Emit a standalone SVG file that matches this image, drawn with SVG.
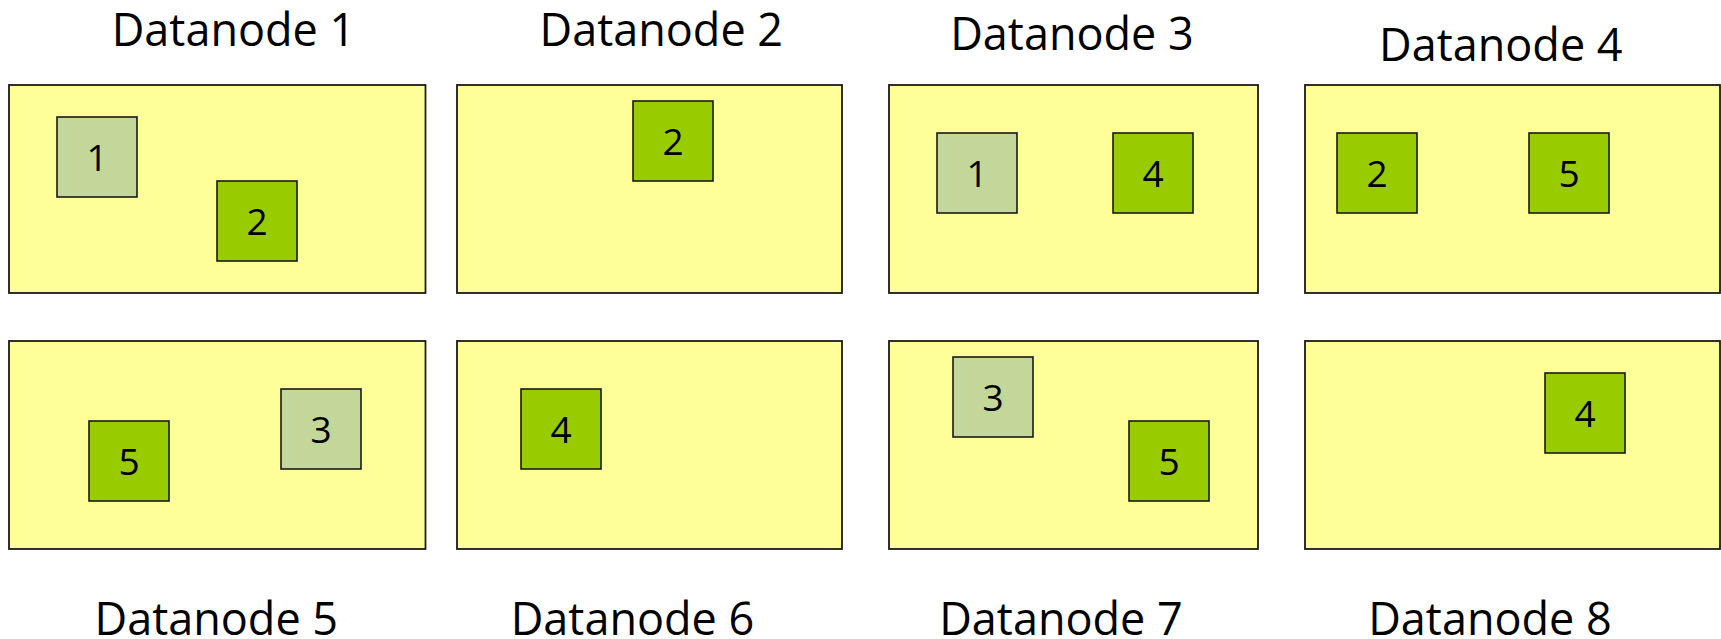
<svg xmlns="http://www.w3.org/2000/svg" width="1721" height="639" viewBox="0 0 1721 639">
  <style>
    .node { fill: #FFFF99; stroke: #1a1a1a; stroke-width: 1.8; }
    .blk { stroke: #1a1a1a; stroke-width: 1.6; }
    .replica { fill: #C4D79B; }
    .primary { fill: #99CC00; }
    .title { font-family: "Open Sans", "Liberation Sans", sans-serif; font-size: 45px; fill: #000; text-anchor: middle; }
    .num { font-family: "Open Sans", "Liberation Sans", sans-serif; font-size: 37px; fill: #000; text-anchor: middle; }
  </style>
  <rect width="1721" height="639" fill="#ffffff"/>

  <g id="datanode-1">
    <text class="title" x="233.5" y="45.7">Datanode 1</text>
    <rect class="node" x="9" y="85" width="416.5" height="208"/>
    <rect class="blk replica" x="57" y="117" width="80" height="80"/>
    <text class="num" x="97" y="170.5">1</text>
    <rect class="blk primary" x="217" y="181" width="80" height="80"/>
    <text class="num" x="257" y="234.5">2</text>
  </g>

  <g id="datanode-2">
    <text class="title" x="661.3" y="45.7">Datanode 2</text>
    <rect class="node" x="457" y="85" width="385" height="208"/>
    <rect class="blk primary" x="633" y="101" width="80" height="80"/>
    <text class="num" x="673" y="154.5">2</text>
  </g>

  <g id="datanode-3">
    <text class="title" x="1072" y="50">Datanode 3</text>
    <rect class="node" x="889" y="85" width="369" height="208"/>
    <rect class="blk replica" x="937" y="133" width="80" height="80"/>
    <text class="num" x="977" y="186.5">1</text>
    <rect class="blk primary" x="1113" y="133" width="80" height="80"/>
    <text class="num" x="1153" y="186.5">4</text>
  </g>

  <g id="datanode-4">
    <text class="title" x="1500.8" y="61">Datanode 4</text>
    <rect class="node" x="1305" y="85" width="415" height="208"/>
    <rect class="blk primary" x="1337" y="133" width="80" height="80"/>
    <text class="num" x="1377" y="186.5">2</text>
    <rect class="blk primary" x="1529" y="133" width="80" height="80"/>
    <text class="num" x="1569" y="186.5">5</text>
  </g>

  <g id="datanode-5">
    <rect class="node" x="9" y="341" width="416.5" height="208"/>
    <rect class="blk primary" x="89" y="421" width="80" height="80"/>
    <text class="num" x="129" y="474.5">5</text>
    <rect class="blk replica" x="281" y="389" width="80" height="80"/>
    <text class="num" x="321" y="442.5">3</text>
    <text class="title" x="216.3" y="635">Datanode 5</text>
  </g>

  <g id="datanode-6">
    <rect class="node" x="457" y="341" width="385" height="208"/>
    <rect class="blk primary" x="521" y="389" width="80" height="80"/>
    <text class="num" x="561" y="442.5">4</text>
    <text class="title" x="632.5" y="635">Datanode 6</text>
  </g>

  <g id="datanode-7">
    <rect class="node" x="889" y="341" width="369" height="208"/>
    <rect class="blk replica" x="953" y="357" width="80" height="80"/>
    <text class="num" x="993" y="410.5">3</text>
    <rect class="blk primary" x="1129" y="421" width="80" height="80"/>
    <text class="num" x="1169" y="474.5">5</text>
    <text class="title" x="1061" y="635">Datanode 7</text>
  </g>

  <g id="datanode-8">
    <rect class="node" x="1305" y="341" width="415" height="208"/>
    <rect class="blk primary" x="1545" y="373" width="80" height="80"/>
    <text class="num" x="1585" y="426.5">4</text>
    <text class="title" x="1490" y="635">Datanode 8</text>
  </g>

  <g id="connectors"/>
</svg>
